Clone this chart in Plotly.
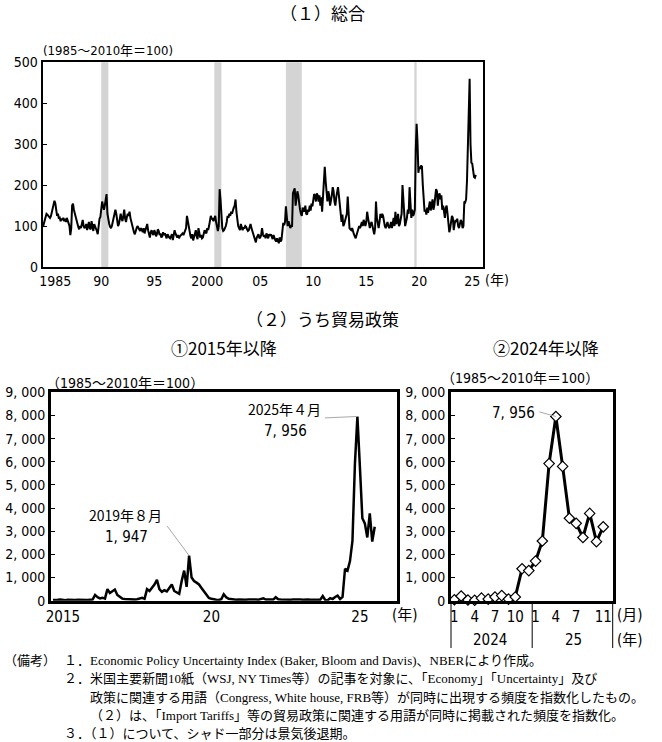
import plotly.graph_objects as go

W, H = 662, 742

# ---------------- data ----------------
# (1) Economic Policy Uncertainty index, monthly, Jan 1985 - Nov 2025 (1985-2010 = 100)
epu_1985_89 = [98, 108, 112, 120, 130, 128, 126, 122, 120, 124, 135, 145,
               158, 162, 155, 140, 125, 130, 118, 120, 112, 118, 115, 120,
               112, 118, 110, 120, 112, 108, 100, 78, 95, 150, 155, 140,
               130, 120, 112, 105, 98, 92, 100, 95, 105, 115, 100, 95,
               98, 105, 90, 100, 110, 95, 92, 112, 100, 88, 105, 100]
epu_1990_94 = [95, 88, 80, 100, 118, 122, 140, 160, 150, 140, 150, 170,
               178, 130, 115, 105, 98, 95, 100, 110, 118, 125, 140, 130,
               115, 100, 105, 120, 130, 118, 112, 125, 140, 118, 110, 122,
               130, 125, 135, 120, 110, 100, 88, 85, 80, 90, 95, 100,
               95, 92, 88, 95, 90, 85, 95, 82, 90, 100, 105, 90]
epu_1995_99 = [80, 72, 85, 90, 82, 78, 90, 85, 75, 80, 92, 88,
               78, 82, 72, 75, 85, 78, 82, 74, 70, 80, 75, 72,
               70, 76, 80, 66, 85, 90, 82, 75, 72, 78, 70, 75,
               78, 80, 82, 78, 85, 90, 95, 125, 110, 98, 90, 75,
               70, 80, 65, 72, 80, 90, 75, 68, 95, 85, 72, 78]
epu_2000_04 = [70, 72, 80, 90, 85, 82, 95, 90, 100, 110, 125, 118,
               118, 112, 120, 125, 110, 95, 88, 100, 190, 165, 110, 95,
               88, 90, 95, 100, 110, 125, 120, 130, 125, 135, 130, 140,
               145, 150, 165, 135, 110, 100, 95, 90, 105, 98, 90, 95,
               95, 100, 98, 92, 88, 90, 100, 105, 95, 88, 82, 76]
epu_2005_09 = [68, 60, 72, 75, 80, 70, 72, 78, 95, 80, 74, 78,
               70, 82, 75, 70, 80, 76, 80, 72, 68, 78, 70, 66,
               62, 70, 64, 58, 72, 62, 66, 100, 108, 102, 110, 148,
               110, 100, 112, 98, 95, 100, 100, 180, 190, 192, 150, 165,
               185, 175, 150, 140, 130, 125, 145, 140, 135, 150, 130, 128]
epu_2010_14 = [140, 135, 150, 138, 155, 148, 170, 178, 175, 160, 180, 175,
               160, 175, 150, 170, 135, 175, 200, 245, 210, 180, 160, 185,
               175, 150, 160, 175, 195, 185, 160, 150, 170, 180, 195, 175,
               155, 120, 110, 128, 100, 105, 112, 120, 130, 172, 105, 95,
               92, 90, 95, 85, 80, 75, 70, 78, 85, 90, 100, 95]
epu_2015_19 = [105, 110, 100, 115, 108, 100, 110, 135, 120, 100, 95, 105,
               110, 100, 85, 80, 95, 160, 120, 100, 95, 110, 130, 120,
               130, 125, 110, 100, 95, 105, 110, 100, 95, 100, 110, 95,
               105, 120, 100, 135, 105, 110, 130, 100, 105, 115, 130, 200,
               140, 130, 100, 110, 120, 140, 130, 195, 130, 120, 140, 125]
epu_2020_24 = [130, 140, 285, 350, 305, 230, 245, 240, 248, 245, 200, 145,
               135, 140, 128, 145, 132, 148, 160, 138, 150, 165, 140, 150,
               170, 190, 185, 150, 175, 180, 165, 175, 140, 150, 135, 120,
               145, 150, 130, 100, 85, 95, 110, 125, 120, 90, 105, 115,
               110, 118, 100, 95, 105, 115, 110, 95, 100, 160, 158, 165]
epu_2025 = [210, 290, 370, 460, 300, 255, 252, 228, 220, 218, 225]

epu_start_year = 1985
epu_year_ticks = [1985, 1990, 1995, 2000, 2005, 2010, 2015, 2020, 2025]
epu_tick_labels = ["1985", "90", "95", "2000", "05", "10", "15", "20", "25"]

# NBER recessions (start year, start month, end year, end month)
recessions = [(1990, 7, 1991, 3), (2001, 3, 2001, 11), (2007, 12, 2009, 6), (2020, 2, 2020, 4)]

# (2) Trade policy uncertainty, monthly, Jan 2015 - Nov 2025
tpu_2015_17 = [30, 20, 40, 50, 30, 20, 40, 30, 20, 30, 40, 30,
               30, 40, 30, 40, 50, 250, 150, 100, 130, 90, 500, 330,
               400, 480, 250, 150, 90, 70, 60, 70, 60, 50, 60, 80]
tpu_2018_20 = [120, 80, 500, 420, 550, 700, 900, 500, 380, 450, 400, 550,
               700, 420, 350, 300, 850, 1300, 600, 1947, 1000, 850, 780, 700,
               550, 400, 220, 120, 80, 50, 40, 30, 60, 280, 150, 80]
tpu_2021_23 = [60, 50, 40, 50, 40, 30, 40, 50, 60, 40, 50, 40,
               60, 100, 50, 60, 40, 50, 150, 60, 50, 40, 60, 50,
               40, 50, 60, 40, 50, 40, 60, 50, 40, 50, 60, 40]
tpu_2024_25 = [40, 200, 30, 20, 110, 70, 160, 220, 70, 160, 1380, 1300,
               1710, 2580, 5920, 7956, 5800, 3560, 3340, 2730, 3770, 2550, 3190]

tpu_start_year = 2015
tpu_year_ticks = [2015, 2020, 2025]
tpu_tick_labels = ["2015", "20", "25"]
tpu_y_ticks = [0, 1000, 2000, 3000, 4000, 5000, 6000, 7000, 8000, 9000]
tpu_y_labels = ["0", "1, 000", "2, 000", "3, 000", "4, 000", "5, 000",
                "6, 000", "7, 000", "8, 000", "9, 000"]

recent_start_year = 2024
recent_month_ticks = [(2024, 1), (2024, 4), (2024, 7), (2024, 10),
                      (2025, 1), (2025, 4), (2025, 7), (2025, 11)]
recent_month_labels = ["1", "4", "7", "10", "1", "4", "7", "11"]
recent_year_labels = ["2024", "25"]

# ---------------- build ----------------
epu = epu_1985_89 + epu_1990_94 + epu_1995_99 + epu_2000_04 + epu_2005_09 + \
      epu_2010_14 + epu_2015_19 + epu_2020_24 + epu_2025
m_epu = list(range(len(epu)))

tpu = tpu_2015_17 + tpu_2018_20 + tpu_2021_23 + tpu_2024_25
m_tpu = list(range(len(tpu)))

off = (recent_start_year - tpu_start_year) * 12
tpu_recent = tpu[off:]
m_recent = list(range(len(tpu_recent)))

NARROW = "Liberation Sans Narrow, DejaVu Sans Condensed, Roboto Condensed, Arial Narrow, Noto Sans CJK JP, sans-serif"
JP = "Noto Sans CJK JP, sans-serif"
SERIF = "Liberation Serif, Noto Sans CJK JP, serif"


def px(x):
    return x / W


def py(y):
    return 1 - y / H


fig = go.Figure()
fig.add_trace(go.Scatter(x=m_epu, y=epu, mode="lines", line=dict(color="black", width=2),
                         xaxis="x", yaxis="y", showlegend=False, hoverinfo="skip"))
fig.add_trace(go.Scatter(x=m_tpu, y=tpu, mode="lines", line=dict(color="black", width=2.5),
                         xaxis="x2", yaxis="y2", showlegend=False, hoverinfo="skip"))
fig.add_trace(go.Scatter(x=m_recent, y=tpu_recent, mode="lines+markers",
                         line=dict(color="black", width=3),
                         marker=dict(symbol="diamond", size=8, color="white",
                                     line=dict(color="black", width=1.2)),
                         xaxis="x3", yaxis="y3", showlegend=False, hoverinfo="skip", cliponaxis=False))

frame = dict(showline=True, linecolor="black", mirror=True, showgrid=False, zeroline=False,
             automargin=False)

epu_tickvals = [(y - epu_start_year) * 12 + 6 for y in epu_year_ticks]
epu_tickvals[0] += 8
tpu_tickvals = [(y - tpu_start_year) * 12 + 4 for y in tpu_year_ticks]
recent_tickvals = [(y - recent_start_year) * 12 + (mo - 1) for y, mo in recent_month_ticks]

fig.update_layout(
    template="none",
    width=W, height=H, margin=dict(l=0, r=0, t=0, b=0, pad=0), autosize=False,
    paper_bgcolor="white", plot_bgcolor="white", showlegend=False,
    font=dict(family=JP, color="black"),
    xaxis=dict(frame, linewidth=2, domain=[px(42.7), px(482.7)], range=[-0.3, 497.8], anchor="y",
               tickvals=epu_tickvals, ticktext=epu_tick_labels, ticks="",
               tickfont=dict(family=NARROW, size=14, color="black")),
    yaxis=dict(frame, linewidth=2, domain=[py(267), py(62.3)], range=[0, 500], anchor="x",
               tickvals=[0, 100, 200, 300, 400, 500], ticks="inside", ticklen=4, tickcolor="black",
               tickfont=dict(family=NARROW, size=14, color="black")),
    xaxis2=dict(frame, linewidth=3, domain=[px(51), px(397)], range=[-0.8, 139], anchor="y2",
                tickvals=tpu_tickvals, ticktext=tpu_tick_labels, ticks="",
                tickfont=dict(family=NARROW, size=15, color="black")),
    yaxis2=dict(frame, linewidth=3, domain=[py(600.7), py(392.3)], range=[0, 9000], anchor="x2",
                tickvals=tpu_y_ticks, ticktext=tpu_y_labels, ticks="inside", ticklen=4, tickcolor="black",
                tickfont=dict(family=NARROW, size=14, color="black")),
    xaxis3=dict(frame, linewidth=3, domain=[px(451), px(612.7)], range=[-0.5, 23.4], anchor="y3",
                tickvals=recent_tickvals, ticktext=recent_month_labels, ticks="",
                tickfont=dict(family=NARROW, size=15, color="black")),
    yaxis3=dict(frame, linewidth=3, domain=[py(600.7), py(392.3)], range=[0, 9000], anchor="x3",
                tickvals=tpu_y_ticks, ticktext=tpu_y_labels, ticks="inside", ticklen=4, tickcolor="black",
                tickfont=dict(family=NARROW, size=14, color="black")),
)

shapes = []
for y0, m0, y1, m1 in recessions:
    s = (y0 - epu_start_year) * 12 + (m0 - 1)
    e = (y1 - epu_start_year) * 12 + (m1 - 1)
    if e - s < 3:
        s -= 0.6
    shapes.append(dict(type="rect", xref="x", yref="y domain", x0=s, x1=e, y0=0, y1=1,
                       fillcolor="#d4d4d4", line=dict(width=0), layer="below"))
# year separators below the recent chart
sep = 12 - 0.5
for xr, xv in [("x3 domain", 0), ("x3", sep), ("x3 domain", 1)]:
    shapes.append(dict(type="line", xref=xr, yref="paper", x0=xv, x1=xv, y0=py(602), y1=py(648),
                       line=dict(color="black", width=1)))
fig.update_layout(shapes=shapes)


def txt(s, x, y, size, xanchor="center", family=JP):
    return dict(text=s, x=px(x), y=py(y), xref="paper", yref="paper", xanchor=xanchor,
                yanchor="middle", showarrow=False, font=dict(size=size, family=family, color="black"))


ann = [
    txt("（１）総合", 322, 12.5, 17),
    txt("(1985～2010年＝100)", 41, 50.5, 13, "left", NARROW),
    txt("(年)", 497, 280, 14, "center", NARROW),
    txt("（２）うち貿易政策", 322, 318, 17),
    txt("①2015年以降", 224, 348, 17),
    txt("②2024年以降", 546, 348, 17),
    txt("（1985～2010年＝100）", 44, 383, 14, "left", NARROW),
    txt("（1985～2010年＝100）", 439, 378, 14, "left", NARROW),
    txt("(年)", 405, 615, 15, "center", NARROW),
    txt("(月)", 630, 615, 15, "center", NARROW),
    txt("(年)", 630, 640, 15, "center", NARROW),
    txt(recent_year_labels[0], 490, 640, 15, "center", NARROW),
    txt(recent_year_labels[1], 573, 640, 15, "center", NARROW),
    txt("2019年８月", 125, 515, 14),
    txt("1, 947", 126, 537, 15, "center", NARROW),
    txt("2025年４月", 284, 409, 14),
    txt("7, 956", 285, 431, 15, "center", NARROW),
    txt("7, 956", 513, 413, 15, "center", NARROW),
    txt("（備考）", 2, 660, 13, "left", SERIF),
    txt("１．Economic Policy Uncertainty Index (Baker, Bloom and Davis)、NBERにより作成。", 62, 660, 13, "left", SERIF),
    txt("２．米国主要新聞10紙（WSJ, NY Times等）の記事を対象に、「Economy」「Uncertainty」及び", 62, 678.5, 13, "left", SERIF),
    txt("政策に関連する用語（Congress, White house, FRB等）が同時に出現する頻度を指数化したもの。", 88, 697, 13, "left", SERIF),
    txt("（２）は、「Import Tariffs」等の貿易政策に関連する用語が同時に掲載された頻度を指数化。", 88, 715.5, 13, "left", SERIF),
    txt("３．（１）について、シャド一部分は景気後退期。", 62, 733, 13, "left", SERIF),
]

# leader lines to the peaks (computed from data)
i19 = max(range(0, 70), key=lambda i: tpu[i])
i25 = max(range(len(tpu)), key=lambda i: tpu[i])
ir = max(range(len(tpu_recent)), key=lambda i: tpu_recent[i])
for xr, yr, xi, yv, ax, ay in [("x2", "y2", i19, tpu[i19], -23, -31),
                               ("x2", "y2", i25, tpu[i25], -34, 1.5),
                               ("x3", "y3", ir, tpu_recent[ir], -18, -5)]:
    ann.append(dict(x=xi, y=yv, xref=xr, yref=yr, text="", showarrow=True, arrowhead=0,
                    arrowwidth=1, arrowcolor="#a8a8a8", ax=ax, ay=ay, standoff=0))

fig.update_layout(annotations=ann)
fig.write_html("out.html", config={"displayModeBar": False, "staticPlot": True},
               post_script="document.body.style.margin='0';")
